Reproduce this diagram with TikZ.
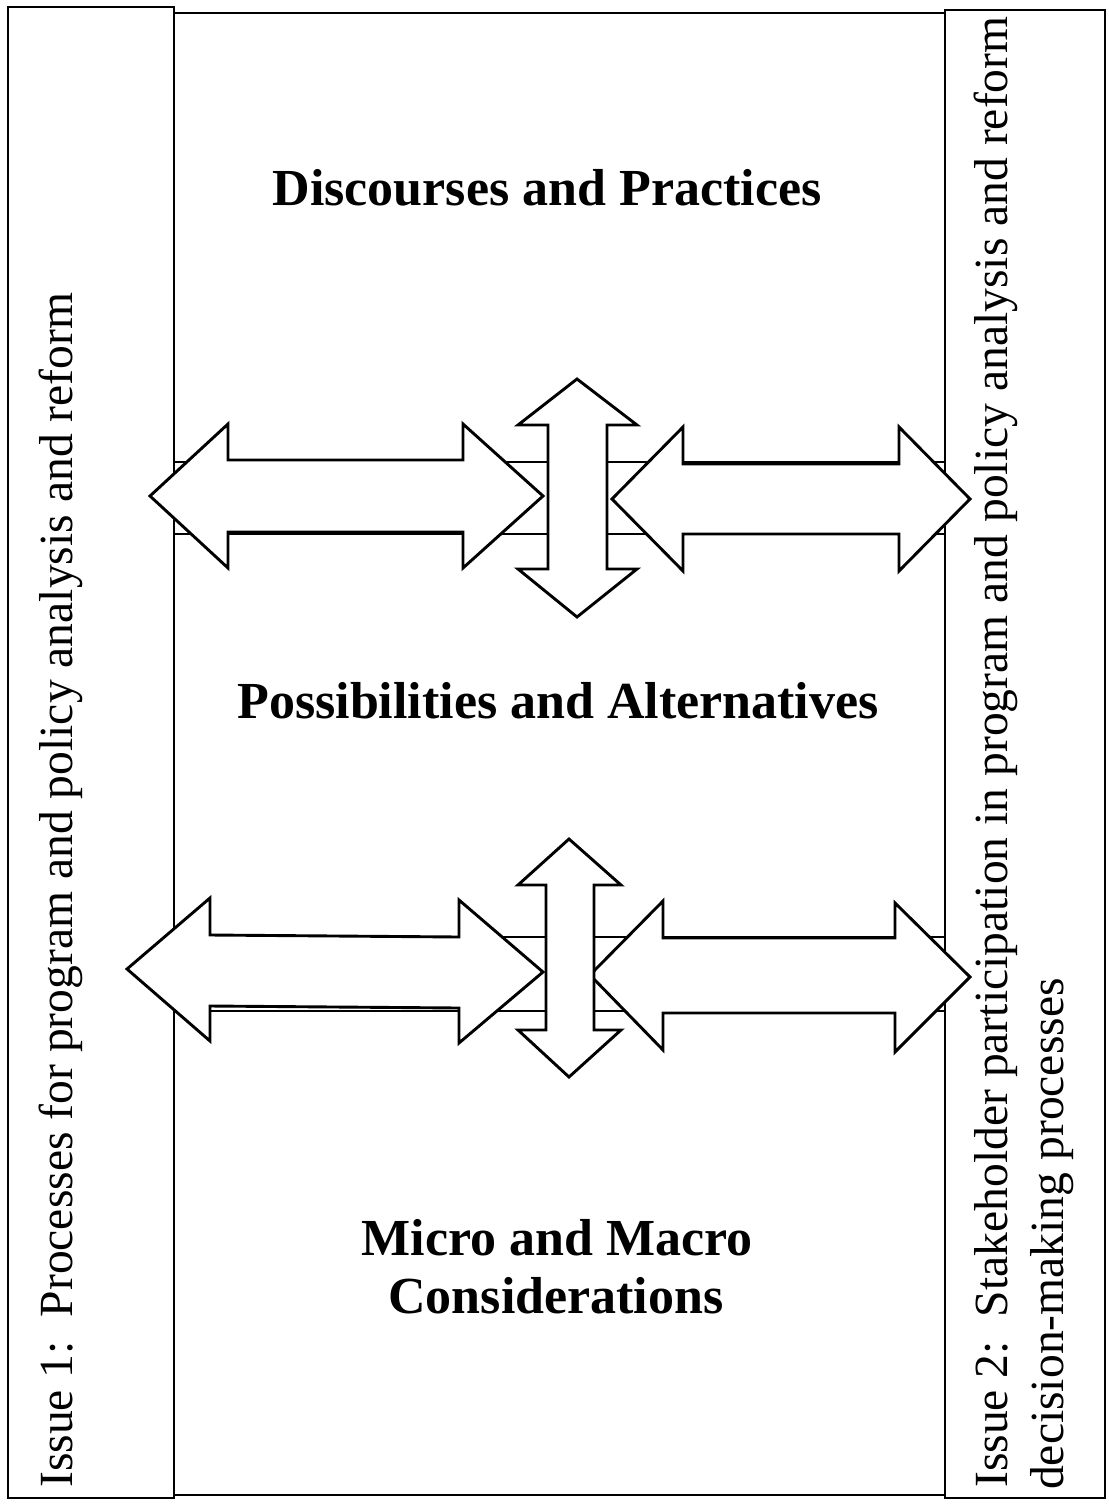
\documentclass[tikz,border=0pt]{standalone}
\usepackage{fontspec}
\setmainfont{Liberation Serif}
\begin{document}
\begin{tikzpicture}[x=1pt,y=-1pt,
  frame/.style={draw=black,line width=2.9pt,fill=white},
  band/.style={draw=black,line width=2.9pt,fill=white},
  blockarrow/.style={draw=black,line width=2.9pt,fill=white,line join=miter},
  heading/.style={font=\fontsize{52}{60}\selectfont\bfseries,inner sep=0pt,anchor=base},
  sidetext/.style={font=\fontsize{47.6}{55}\selectfont,inner sep=0pt,anchor=base west,rotate=90}]
\useasboundingbox (0,0) rectangle (1108,1504);
\fill[white] (0,0) rectangle (1108,1504);
% boxes
\draw[frame] (174,13) rectangle (945,1495);
\draw[frame] (8,7) rectangle (174,1498);
\draw[frame] (945,10) rectangle (1105,1498);
% bands behind arrows
\draw[band] (174,462) rectangle (945,534);
\draw[band] (174,937) rectangle (945,1011);
% upper row
\draw[blockarrow] (150,496) -- (228,424) -- (228,460) -- (463,460) -- (463,424) -- (543,496)
  -- (463,568) -- (463,532) -- (228,532) -- (228,568) -- cycle;
\draw[blockarrow] (612,499) -- (683,427) -- (683,464) -- (899,464) -- (899,427) -- (970,499)
  -- (899,571) -- (899,534) -- (683,534) -- (683,571) -- cycle;
\draw[blockarrow] (577,379) -- (637,425) -- (607,425) -- (607,569) -- (637,569) -- (577,617)
  -- (518,569) -- (548,569) -- (548,425) -- (518,425) -- cycle;
% lower row
\draw[blockarrow] (127,969) -- (210,898) -- (210,935) -- (459,937) -- (459,900) -- (543,972)
  -- (459,1043) -- (459,1008) -- (210,1006) -- (210,1041) -- cycle;
\draw[blockarrow] (590,975) -- (663,901) -- (663,938) -- (895,938) -- (895,903) -- (970,977)
  -- (895,1052) -- (895,1013) -- (663,1013) -- (663,1050) -- cycle;
\draw[blockarrow] (569,839) -- (621,885) -- (594,885) -- (594,1030) -- (621,1030) -- (569,1077)
  -- (518,1030) -- (546,1030) -- (546,885) -- (518,885) -- cycle;
% headings
\node[heading] (dp) at (547,205) {Discourses and Practices};
\node[heading] (pa) at (558,718) {Possibilities and Alternatives};
\node[heading] (mm) at (557,1255) {Micro and Macro};
\node[heading] (co) at (556,1313) {Considerations};
% side texts
\node[sidetext] (issue1) at (72,1488) {Issue 1:\ \ Processes for program and policy analysis and reform};
\node[sidetext] (issue2a) at (1007,1488) {Issue 2:\ \ Stakeholder participation in program and policy analysis and reform};
\node[sidetext] (issue2b) at (1063,1490) {decision-making processes};
\end{tikzpicture}
\end{document}
